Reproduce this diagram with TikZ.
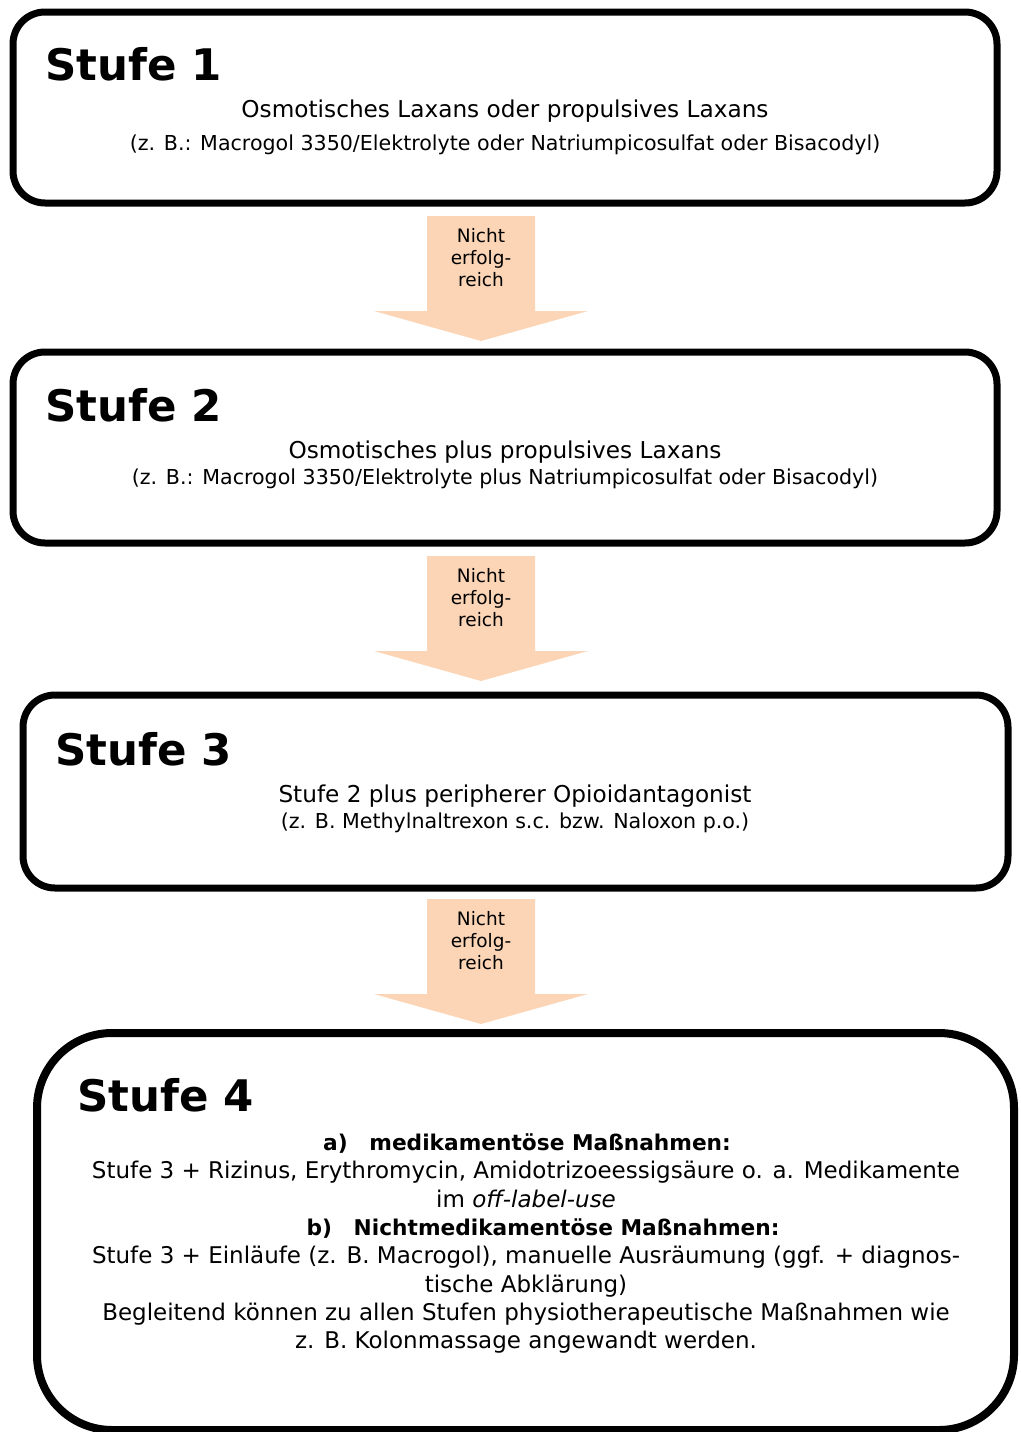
\documentclass[tikz,border=0pt]{standalone}
\usepackage{fontspec}
\setmainfont{DejaVu Sans}
\definecolor{peach}{HTML}{FBD5B5}
\begin{document}
\begin{tikzpicture}[x=1pt,y=-1pt,
  stage/.style={draw=black,line width=7pt,rounded corners=32pt,fill=white},
  title/.style={anchor=base west,font=\bfseries\fontsize{43.5}{50}\selectfont,inner sep=0pt},
  mainline/.style={anchor=base,font=\fontsize{23.2}{27}\selectfont,inner sep=0pt},
  subline/.style={anchor=base,font=\fontsize{20.6}{24}\selectfont,inner sep=0pt},
  bodyline/.style={anchor=base,font=\fontsize{23}{27}\selectfont,inner sep=0pt},
  boldline/.style={anchor=base,font=\bfseries\fontsize{21.7}{26}\selectfont,inner sep=0pt},
  arrowlbl/.style={align=center,font=\fontsize{18.5}{22}\selectfont,inner sep=0pt,anchor=north},
  blockarrow/.style={fill=peach}]
\useasboundingbox (0,0) rectangle (1020,1432);
% Stage boxes
\node[stage,minimum width=984pt,minimum height=191pt] (s1) at (505,107.5) {};
\node[stage,minimum width=984pt,minimum height=191pt] (s2) at (505,447.5) {};
\node[stage,minimum width=985pt,minimum height=193pt] (s3) at (515.5,791.5) {};
\draw[stage,line width=8pt,rounded corners=75pt] (37,1033) rectangle (1014,1430);
\node[inner sep=0pt] (s4) at (525.5,1231.5) {};
% Arrows
\foreach \t/\n in {216/a1,556/a2,899/a3}{
  \fill[blockarrow] (427,\t) -- (535,\t) -- (535,\t+95) -- (588,\t+95) -- (481,\t+125)
     -- (374,\t+95) -- (427,\t+95) -- cycle;
  \node[arrowlbl] (\n) at (481,\t+12) {Nicht\\erfolg-\\reich};
}
% Stufe 1
\node[title] (t1) at (45,80) {Stufe 1};
\node[mainline] (m1) at (505,117) {Osmotisches Laxans oder propulsives Laxans};
\node[subline] (u1) at (505,150) {(z. B.: Macrogol 3350/Elektrolyte oder Natriumpicosulfat oder Bisacodyl)};
% Stufe 2
\node[title] (t2) at (45,421) {Stufe 2};
\node[mainline] (m2) at (505,458) {Osmotisches plus propulsives Laxans};
\node[subline] (u2) at (505,484) {(z. B.: Macrogol 3350/Elektrolyte plus Natriumpicosulfat oder Bisacodyl)};
% Stufe 3
\node[title] (t3) at (55,765) {Stufe 3};
\node[mainline] (m3) at (515,802) {Stufe 2 plus peripherer Opioidantagonist};
\node[subline] (u3) at (515,828) {(z. B. Methylnaltrexon s.c. bzw. Naloxon p.o.)};
% Stufe 4
\node[title] (t4) at (77,1111) {Stufe 4};
\node[boldline] (b1) at (527,1150) {a)\hspace{1em}medikamentöse Maßnahmen:};
\node[bodyline] (b2) at (526,1178) {Stufe 3 + Rizinus, Erythromycin, Amidotrizoeessigsäure o. a. Medikamente};
\node[bodyline] (b3) at (526,1207) {im \textit{off-label-use}};
\node[boldline] (b4) at (543,1235) {b)\hspace{1em}Nichtmedikamentöse Maßnahmen:};
\node[bodyline] (b5) at (526,1263) {Stufe 3 + Einläufe (z. B. Macrogol), manuelle Ausräumung (ggf. + diagnos-};
\node[bodyline] (b6) at (526,1292) {tische Abklärung)};
\node[bodyline] (b7) at (526,1320) {Begleitend können zu allen Stufen physiotherapeutische Maßnahmen wie};
\node[bodyline] (b8) at (526,1348) {z. B. Kolonmassage angewandt werden.};
\end{tikzpicture}
\end{document}
